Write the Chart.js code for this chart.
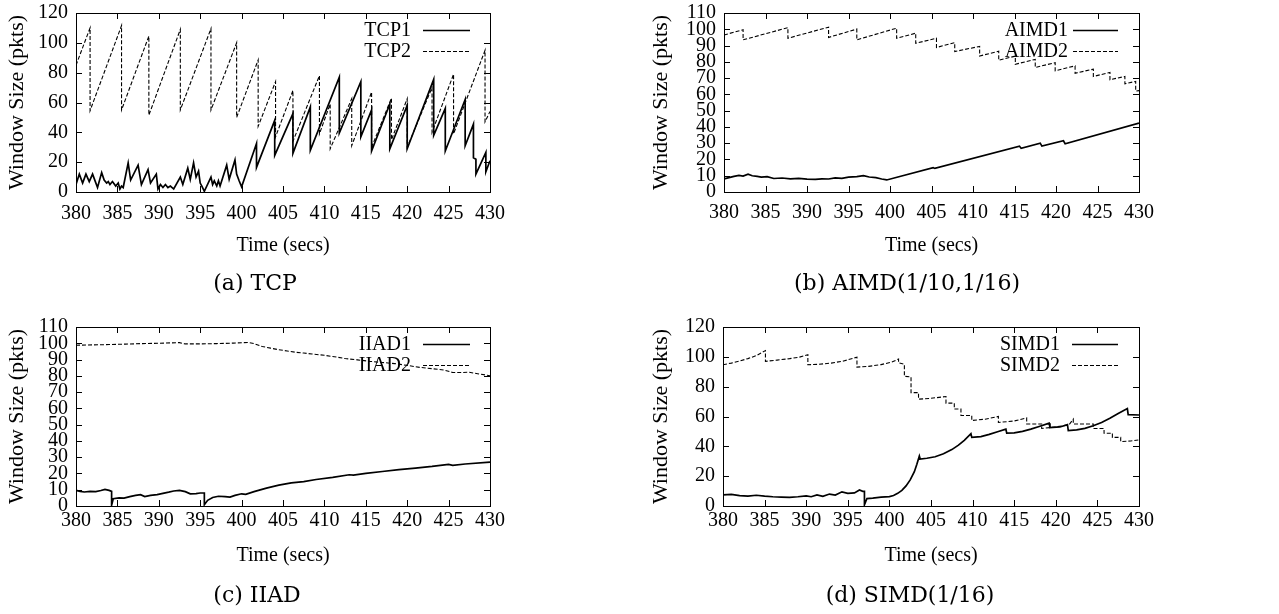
<!DOCTYPE html>
<html><head><meta charset="utf-8">
<script src="https://cdn.jsdelivr.net/npm/chart.js@4/dist/chart.umd.min.js"></script>
<style>
html,body{margin:0;padding:0;background:#fff;}
body{width:1279px;height:614px;position:relative;overflow:hidden;}
.panel{position:absolute;}
.panel canvas{display:block;}
.cap{position:absolute;font-family:"DejaVu Serif",serif;font-size:22px;color:#000;white-space:nowrap;transform:translate(-50%,-50%);line-height:1;}
</style></head><body>
<div class="panel" style="left:0px;top:0px"><canvas id="ca" width="640" height="300"></canvas></div>
<div class="panel" style="left:640px;top:0px"><canvas id="cb" width="639" height="300"></canvas></div>
<div class="panel" style="left:0px;top:300px"><canvas id="cc" width="640" height="314"></canvas></div>
<div class="panel" style="left:640px;top:300px"><canvas id="cd" width="639" height="314"></canvas></div>
<div class="cap" style="left:255px;top:283px">(a) TCP</div>
<div class="cap" style="left:907px;top:283px">(b) AIMD(1/10,1/16)</div>
<div class="cap" style="left:257px;top:595px">(c) IIAD</div>
<div class="cap" style="left:910px;top:595px">(d) SIMD(1/16)</div>
<script>
// ---------------- data ----------------
const xTicksRange = [380, 430, 5];
const yLabel = 'Window Size (pkts)';
const xLabel = 'Time (secs)';

const tcpNames = ['TCP1', 'TCP2'];
const tcp1 = [[380,5],[380.4,12],[380.8,6],[381.2,12],[381.6,7],[382.0,12],[382.6,3],[383.1,13],[383.4,8],[383.7,6],[383.9,7],[384.1,5],[384.4,7],[384.8,4],[385.1,6],[385.3,2],[385.5,4],[385.7,3],[386.3,19.5],[386.6,8],[387.5,18],[387.9,5],[388.7,15],[389.0,6],[389.7,12],[389.9,2],[390.2,5],[390.5,3],[390.8,5],[391.1,3],[391.4,4],[391.8,2],[392.6,10],[392.9,5],[393.5,16],[393.8,8.5],[394.2,19.5],[394.5,10],[394.8,14],[395.0,6],[395.2,4],[395.5,0.5],[396.3,10],[396.5,5],[396.7,7.5],[397.0,4],[397.2,7.5],[397.4,4],[398.2,18],[398.5,8.5],[399.2,21.5],[399.4,12],[399.7,7.5],[400.0,3.5],[401.8,32.5],[401.8,16.5],[404.0,48],[404.0,24.5],[406.2,52.5],[406.2,26],[408.3,57],[408.3,28],[411.8,77],[411.8,39.5],[414.4,74],[414.4,37],[415.7,55],[415.7,27.5],[417.9,59],[417.9,29],[420.0,58],[420.0,29],[423.2,75.5],[423.2,38],[424.6,56],[424.6,27.5],[427.0,62],[427.0,31],[428.0,45.5],[428.0,23],[428.3,22],[428.3,12],[429.5,26.5],[429.5,13.5],[430,21]];
const tcp2 = [[380,85],[381.7,110],[381.7,54.5],[385.5,111.5],[385.5,55],[388.8,104.5],[388.8,51.5],[392.6,109],[392.6,55],[396.3,109.5],[396.3,55],[399.4,100],[399.4,50],[402.0,88.5],[402.0,44],[404.1,74],[404.1,37],[406.2,68],[406.2,34],[409.4,78],[409.4,39],[410.7,59],[410.7,29],[413.3,62.5],[413.3,31],[415.7,67],[415.7,30],[418.1,63],[418.1,35],[420.0,62.5],[420.0,30],[423.0,70],[423.0,40],[425.6,79],[425.6,39],[429.4,95],[429.4,47],[430,54]];

const aimdNames = ['AIMD1', 'AIMD2'];
const aimd1 = [[380,8],[380.6,8.8],[381.2,9.6],[381.8,10.2],[382.3,9.8],[382.9,11],[383.4,10],[384,9.6],[384.5,9.2],[385.2,9.4],[386,8.3],[387,8.6],[388,8.1],[389,8.4],[390,7.9],[391,7.8],[391.8,8.1],[392.6,8.0],[393.4,8.7],[394.2,8.4],[395,9.1],[396,9.5],[396.8,10],[397.5,9.2],[398.3,8.8],[399,8],[399.6,7.4],[405.2,15],[405.4,14.5],[415.6,28.2],[415.8,26.8],[418.1,30],[418.3,28.2],[420.9,31.5],[421.1,29.6],[430,42.3]];
const aimd2 = [[380,96.5],[382.3,99.7],[382.3,93.5],[387.7,101],[387.7,94.5],[392.6,101.3],[392.6,95],[396.0,100.1],[396.0,93.5],[400.8,100.7],[400.8,94.5],[403.1,97.6],[403.1,91.4],[405.6,94.5],[405.6,88.8],[407.8,91.8],[407.8,86.3],[410.8,89.5],[410.8,83.6],[413.1,86.5],[413.1,81],[415.1,83.5],[415.1,78.5],[417.5,81.5],[417.5,76.5],[419.9,79.5],[419.9,74.5],[422.3,77.5],[422.3,73],[424.5,75.5],[424.5,71],[426.5,73.5],[426.5,69],[428.3,71],[428.3,66.5],[429.6,68],[429.6,62],[430,62.3]];

const iiadNames = ['IIAD1', 'IIAD2'];
const iiad1 = [[380,9.6],[380.5,9],[381,8.6],[381.7,9],[382.4,8.8],[383.0,9.5],[383.5,10.2],[384.0,9.6],[384.3,9],[384.3,0.5],[384.5,4.5],[385.2,5],[385.8,4.8],[386.5,5.8],[387.2,6.5],[387.8,7],[388.3,5.8],[389,6.5],[389.8,7],[390.5,7.8],[391.2,8.5],[391.8,9.2],[392.5,9.6],[393.2,8.8],[393.8,7.5],[394.5,7.6],[395,8],[395.5,8],[395.5,0.8],[395.9,3.5],[396.5,5.2],[397.2,6],[398,5.8],[398.6,5.5],[399.2,6.5],[400,7.5],[400.5,7.2],[401.5,8.8],[403,11],[404.5,12.8],[406,14.2],[407.5,15],[409,16.3],[411,17.6],[413,19.2],[413.5,19],[415,20],[417,21.2],[419,22.3],[421,23.3],[423,24.3],[425,25.6],[425.5,25],[427,25.8],[430,27]];
const iiad2 = [[380,98.8],[382,99],[384,99.2],[386,99.5],[388,99.8],[390,100],[392.5,100.4],[393.2,99.6],[395,99.6],[397,99.8],[399,100.1],[400.8,100.5],[401.5,99.8],[402.5,98],[403.5,97],[404.5,96],[405.5,95.3],[406.5,94.5],[407.5,94],[408.5,93.4],[410,92.6],[411.5,91.5],[412.5,90.6],[414,89.8],[415.5,88.9],[417,88.2],[418.5,87.5],[420,86.4],[421.5,85.2],[423,84.4],[424.5,83.5],[425.5,82],[426.5,82],[427.5,82.2],[428.5,81.3],[429.5,80.5],[430,80]];

const simdNames = ['SIMD1', 'SIMD2'];
const simd1 = [[380,7.5],[381,7.8],[382,7],[383,6.6],[384,7.2],[385,6.6],[386,6.2],[387,6],[388,5.8],[389,6.2],[390,6.8],[390.6,6.2],[391.3,7.4],[392,6.5],[392.8,8],[393.5,7.3],[394.3,9.5],[395,8.5],[395.8,8.8],[396.4,10.7],[396.8,9.8],[397.0,9.8],[397.0,0.8],[397.3,5],[398,5.3],[399,6],[400,6.3],[400.5,7],[401,8.5],[401.5,10.5],[402,13.5],[402.5,17.5],[403,23],[403.3,28],[403.6,33.5],[403.7,31.5],[404.5,32],[405.5,33],[406.5,35],[407.5,37.8],[408.3,40.8],[409,44],[409.8,48.5],[409.9,46],[411,46.5],[412,48],[413,49.8],[414,51.5],[414.1,48.8],[415,49],[416,50],[417,51.5],[418,53.3],[419.2,55.5],[419.3,52.5],[420.5,53],[421.4,54.5],[421.5,50.5],[422.5,51],[423.5,52],[424.5,53.8],[425.5,56],[426.5,58.8],[427.5,62],[428.6,65.3],[428.7,61.3],[430,61]];
const simd2 = [[380,94.7],[381,95.8],[382,97.2],[383,98.8],[384,100.8],[385.1,104.2],[385.1,97],[386.5,97.8],[388,98.8],[389.2,99.8],[390.2,101.4],[390.2,94.7],[391.5,95],[393,95.8],[394.5,97.2],[396.1,99.8],[396.1,93.1],[397.5,93.6],[399,94.8],[400.3,96.5],[401.1,98.5],[401.1,96],[401.8,95],[401.8,87],[402.6,86.5],[402.6,76],[403.5,76],[403.5,71.6],[405,72.2],[406.8,73.4],[406.8,69],[407.8,69],[407.8,65],[408.6,65],[408.6,60.7],[409.9,60.7],[409.9,57.3],[411.5,58.2],[413.1,60],[413.1,56],[415,57],[416.5,59],[416.5,55],[418.3,55],[418.3,52],[420,53],[421.6,54.5],[422.1,58.2],[422.1,55],[424.5,55],[424.5,52],[425.8,52],[425.8,48.8],[426.8,48.8],[426.8,46],[427.8,46],[427.8,43.2],[429,43.6],[430,44.3]];

const yMaxA = 120, yStepA = 20;
const yMaxB = 110, yStepB = 10;
const yMaxC = 110, yStepC = 10;
const yMaxD = 120, yStepD = 20;

// ---------------- drawing ----------------
Chart.defaults.font.family = '"Liberation Serif", "Times New Roman", serif';
Chart.defaults.color = '#000';

const gnuFrame = {
  id: 'gnuFrame',
  afterDatasetsDraw(chart, args, opts) {
    const ctx = chart.ctx, a = chart.chartArea;
    const xs = chart.scales.x, ys = chart.scales.y;
    ctx.save();
    ctx.strokeStyle = '#000';
    ctx.lineWidth = 1;
    ctx.setLineDash([]);
    const L = 6;
    ctx.beginPath();
    xs.ticks.forEach(t => {
      const px = Math.round(xs.getPixelForValue(t.value)) + 0.5;
      ctx.moveTo(px, a.bottom); ctx.lineTo(px, a.bottom - L);
      ctx.moveTo(px, a.top); ctx.lineTo(px, a.top + L);
    });
    ys.ticks.forEach(t => {
      const py = Math.round(ys.getPixelForValue(t.value)) + 0.5;
      ctx.moveTo(a.left, py); ctx.lineTo(a.left + L, py);
      ctx.moveTo(a.right, py); ctx.lineTo(a.right - L, py);
    });
    ctx.stroke();
    ctx.strokeRect(Math.round(a.left) + 0.5, Math.round(a.top) + 0.5, Math.round(a.right - a.left), Math.round(a.bottom - a.top));
    // legend (gnuplot style: right aligned text + line sample)
    ctx.font = '20px "Liberation Serif"';
    ctx.fillStyle = '#000';
    ctx.textAlign = 'right';
    ctx.textBaseline = 'middle';
    chart.data.datasets.forEach((ds, i) => {
      const y = a.top + opts.rows[i];
      ctx.fillText(ds.label, a.right - opts.textOff, y);
      ctx.beginPath();
      ctx.lineWidth = ds.borderWidth;
      ctx.setLineDash(ds.borderDash || []);
      ctx.moveTo(a.right - opts.lineFrom, Math.round(y) - 0.5);
      ctx.lineTo(a.right - opts.lineTo, Math.round(y) - 0.5);
      ctx.stroke();
    });
    ctx.restore();
  }
};

function pts(arr) { return arr.map(p => ({x: p[0], y: p[1]})); }

function makeChart(id, names, s1, s2, yMax, yStep, L) {
  const font = {size: 20, family: '"Liberation Serif"'};
  const yFont = {size: 22, family: '"Liberation Serif"'};
  return new Chart(document.getElementById(id), {
    type: 'line',
    data: {datasets: [
      {label: names[0], data: pts(s1), borderColor: '#000', borderWidth: 1.7, pointRadius: 0, tension: 0, fill: false},
      {label: names[1], data: pts(s2), borderColor: '#000', borderWidth: 1.1, borderDash: [4, 2], pointRadius: 0, tension: 0, fill: false}
    ]},
    options: {
      responsive: false, animation: false, devicePixelRatio: 1,
      events: [],
      layout: {padding: {left: 0, right: L.padR, top: L.padT, bottom: L.padB}},
      plugins: {legend: {display: false}, tooltip: {enabled: false},
        gnuFrame: {rows: [17.5, 39], textOff: L.textOff, lineFrom: L.lineFrom, lineTo: L.lineTo}},
      scales: {
        x: {type: 'linear', min: xTicksRange[0], max: xTicksRange[1],
          ticks: {stepSize: xTicksRange[2], font: font, color: '#000', padding: L.xTickPad, maxRotation: 0, autoSkip: false},
          grid: {display: false, drawTicks: false}, border: {display: false},
          title: {display: true, text: xLabel, font: font, color: '#000', padding: {top: 0, bottom: 0}},
          afterFit: s => { s.height = L.xH; s.paddingLeft = 0; s.paddingRight = 0; s.paddingTop = 0; s.paddingBottom = 0; }
        },
        y: {type: 'linear', min: 0, max: yMax,
          ticks: {stepSize: yStep, font: font, color: '#000', padding: 8, autoSkip: false},
          grid: {display: false, drawTicks: false}, border: {display: false},
          title: {display: true, text: yLabel, font: yFont, color: '#000', padding: {top: L.yTitlePad, bottom: 0}},
          afterFit: s => { s.width = L.yW; s.paddingLeft = 0; s.paddingRight = 0; s.paddingTop = 0; s.paddingBottom = 0; }
        }
      }
    },
    plugins: [gnuFrame]
  });
}

makeChart('ca', tcpNames, tcp1, tcp2, yMaxA, yStepA,
  {padR: 150, padT: 13, padB: 42, xH: 66, yW: 76, xTickPad: 10, yTitlePad: 4, textOff: 79, lineFrom: 67, lineTo: 20});
makeChart('cb', aimdNames, aimd1, aimd2, yMaxB, yStepB,
  {padR: 140, padT: 13, padB: 42, xH: 66, yW: 84, xTickPad: 9, yTitlePad: 8, textOff: 71, lineFrom: 66, lineTo: 21});
makeChart('cc', iiadNames, iiad1, iiad2, yMaxC, yStepC,
  {padR: 150, padT: 27, padB: 46, xH: 62, yW: 76, xTickPad: 3, yTitlePad: 4, textOff: 79, lineFrom: 67, lineTo: 20});
makeChart('cd', simdNames, simd1, simd2, yMaxD, yStepD,
  {padR: 140, padT: 27, padB: 46, xH: 62, yW: 83, xTickPad: 3, yTitlePad: 8, textOff: 79, lineFrom: 67, lineTo: 21});
</script>
</body></html>
